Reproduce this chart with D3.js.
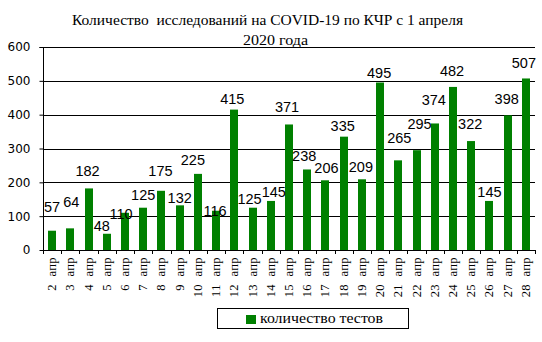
<!DOCTYPE html>
<html>
<head>
<meta charset="utf-8">
<script src="https://cdn.jsdelivr.net/npm/d3@7"></script>
<style>
  body { margin: 0; background: #fff; }
  svg { display: block; }
</style>
</head>
<body>
<svg id="chart" width="542" height="342"></svg>
<script>
// Daily COVID-19 tests, 2–28 April 2020
const categories = ["2 апр","3 апр","4 апр","5 апр","6 апр","7 апр","8 апр","9 апр","10 апр",
  "11 апр","12 апр","13 апр","14 апр","15 апр","16 апр","17 апр","18 апр","19 апр","20 апр",
  "21 апр","22 апр","23 апр","24 апр","25 апр","26 апр","27 апр","28 апр"];
const tests = [57,64,182,48,110,125,175,132,225,116,415,125,145,371,238,206,335,209,495,
  265,295,374,482,322,145,398,507];
const yTicks = [0,100,200,300,400,500,600];
const seriesName = "количество тестов";
const titleLines = ["Количество  исследований на COVID-19 по КЧР с 1 апреля", "2020 года"];

// Hand-placed value labels: [dx from bar centre, gap above bar top]
const labelNudge = [[0,19],[1,21],[-1,12],[-5,3],[-4,-6],[0,8],[-1,15],[0,2],[-5,9],[-1,-5],
  [-2,6],[-3,4],[3,4],[-2,12],[-3,8],[1,7],[-1,6],[-1,7],[-1,5],[1,17],[3,21],[-1,18],
  [-1,11],[-1,12],[0,4],[-1,11],[-2,10]];

const svg = d3.select("#chart");
const plotLeft = 43, plotRight = 535, plotTop = 47, plotBottom = 250;

const x = d3.scaleBand().domain(categories).range([plotLeft, plotRight]).padding(0);
const y = d3.scaleLinear().domain([0, 600]).range([plotBottom, plotTop]);
const barW = 8;
const green = "#008000";

// Horizontal gridlines
svg.append("g")
  .selectAll("line")
  .data(yTicks.filter(d => d > 0))
  .join("line")
  .attr("x1", plotLeft).attr("x2", plotRight)
  .attr("y1", d => Math.round(y(d)) + 0.5).attr("y2", d => Math.round(y(d)) + 0.5)
  .attr("stroke", "#000").attr("stroke-width", 1);

// Bars
svg.append("g")
  .selectAll("rect")
  .data(tests)
  .join("rect")
  .attr("x", (d, i) => Math.round(x(categories[i]) + x.bandwidth() / 2 - barW / 2))
  .attr("width", barW)
  .attr("y", d => y(d))
  .attr("height", d => plotBottom - y(d))
  .attr("fill", green);

// Y axis
const yAxis = d3.axisLeft(y).tickValues(yTicks).tickSize(4).tickPadding(9);
const gy = svg.append("g")
  .attr("transform", `translate(${plotLeft + 0.5},0)`)
  .call(yAxis);
gy.select(".domain").attr("d", `M-4,${Math.round(y(600)) + 0.5}H0V${plotBottom}`).attr("stroke", "#000");
gy.selectAll(".tick line").attr("stroke", "#000");
gy.selectAll(".tick text")
  .attr("fill", "#000")
  .style("font-family", "'DejaVu Sans', sans-serif")
  .style("font-size", "12px");

// X axis baseline and boundary ticks
const gx = svg.append("g");
gx.append("line")
  .attr("x1", plotLeft).attr("x2", plotRight + 1)
  .attr("y1", plotBottom + 0.5).attr("y2", plotBottom + 0.5)
  .attr("stroke", "#000");
const bounds = categories.map(c => x(c)).concat([plotRight]);
gx.selectAll("line.tk")
  .data(bounds)
  .join("line")
  .attr("class", "tk")
  .attr("x1", d => Math.round(d) + 0.5).attr("x2", d => Math.round(d) + 0.5)
  .attr("y1", plotBottom).attr("y2", plotBottom + 4)
  .attr("stroke", "#000");

// Rotated category labels
gx.selectAll("text")
  .data(categories)
  .join("text")
  .attr("transform", d => `translate(${x(d) + x.bandwidth() / 2 + 4},${plotBottom + 7}) rotate(-90)`)
  .attr("text-anchor", "end")
  .style("font-family", "'Liberation Serif', 'Times New Roman', serif")
  .style("font-size", "12.5px")
  .style("letter-spacing", "0.4px")
  .style("word-spacing", "4px")
  .attr("fill", "#000")
  .text(d => d);

// Value labels
svg.append("g")
  .selectAll("text")
  .data(tests)
  .join("text")
  .attr("x", (d, i) => x(categories[i]) + x.bandwidth() / 2 + labelNudge[i][0])
  .attr("y", (d, i) => y(d) - labelNudge[i][1])
  .attr("text-anchor", "middle")
  .style("font-family", "'Liberation Sans', Arial, sans-serif")
  .style("font-size", "14.5px")
  .attr("fill", "#000")
  .text(d => d);

// Title
const serif = "'Liberation Serif', 'Times New Roman', serif";
svg.append("text")
  .attr("x", 72).attr("y", 25)
  .attr("textLength", 391).attr("lengthAdjust", "spacingAndGlyphs")
  .style("font-family", serif).style("font-size", "14.5px")
  .attr("fill", "#000")
  .attr("xml:space", "preserve")
  .text(titleLines[0]);
svg.append("text")
  .attr("x", 243).attr("y", 44.5)
  .attr("textLength", 65).attr("lengthAdjust", "spacingAndGlyphs")
  .style("font-family", serif).style("font-size", "14.5px")
  .attr("fill", "#000")
  .text(titleLines[1]);

// Legend
const lg = svg.append("g");
lg.append("rect")
  .attr("x", 217.5).attr("y", 308.5).attr("width", 191).attr("height", 20)
  .attr("fill", "#fff").attr("stroke", "#000");
lg.append("rect")
  .attr("x", 246).attr("y", 315).attr("width", 10).attr("height", 9)
  .attr("fill", green);
lg.append("text")
  .attr("x", 260).attr("y", 323)
  .attr("textLength", 123).attr("lengthAdjust", "spacingAndGlyphs")
  .style("font-family", serif).style("font-size", "14px")
  .attr("fill", "#000")
  .text(seriesName);
</script>
</body>
</html>
